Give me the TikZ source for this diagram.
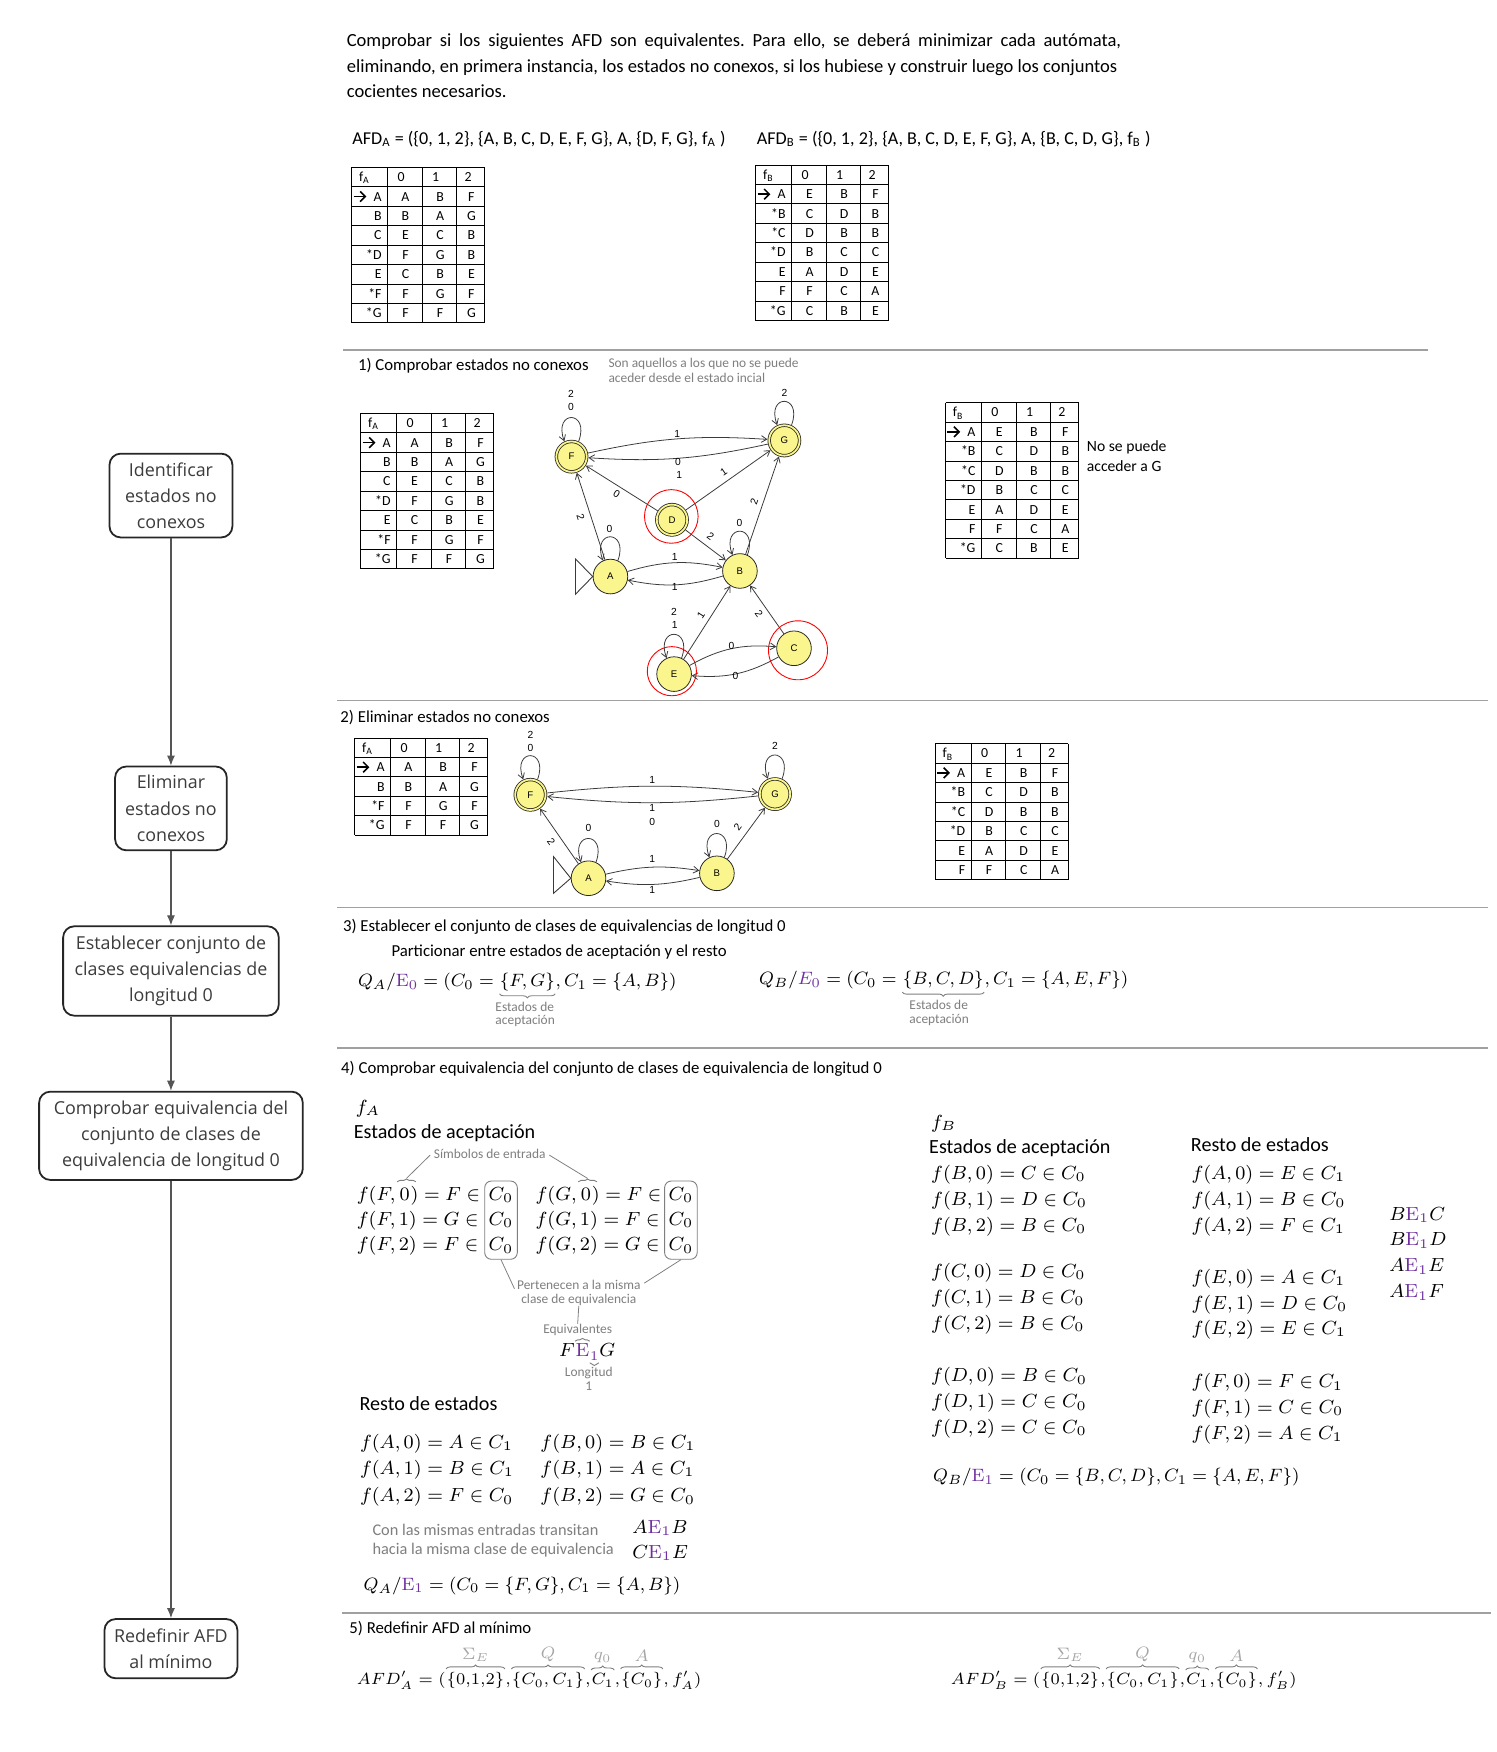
\RequirePackage{fix-cm}
\documentclass[tikz,border=0pt]{standalone}
\usepackage[no-math]{fontspec}
\setmainfont{Carlito}
\newfontfamily\osans{Open Sans}
\newfontfamily\gsans{Liberation Sans}
\usetikzlibrary{arrows.meta,decorations.pathreplacing,fit,calc}
\frenchspacing
\definecolor{epurple}{HTML}{7030A0}
\definecolor{notegray}{HTML}{7F7F7F}
\definecolor{stfill}{RGB}{250,245,140}
\definecolor{boxtext}{HTML}{3C3C3C}
\definecolor{boxline}{HTML}{262626}
\definecolor{arrowgray}{HTML}{555555}
\definecolor{rulegray}{HTML}{A0A0A0}
\definecolor{edgecol}{HTML}{3A3A3A}
\definecolor{lightgrayf}{HTML}{A6A6A6}
\tikzset{
  body/.style={font=\fontsize{7.5}{11.5}\selectfont, inner sep=0pt, anchor=base west},
  para/.style={font=\fontsize{8.3}{11.5}\selectfont, inner sep=0pt, anchor=base west},
  small/.style={font=\fontsize{7}{10}\selectfont, inner sep=0pt, anchor=base west},
  bigtxt/.style={font=\fontsize{9}{11}\selectfont, inner sep=0pt, anchor=base west},
  eqn/.style={font=\fontsize{8.5}{10.5}\selectfont, inner sep=0pt, anchor=base west},
  eqq/.style={font=\fontsize{8}{10}\selectfont, inner sep=0pt, anchor=base west},
  eqfive/.style={font=\fontsize{7.3}{9}\selectfont, inner sep=0pt, anchor=base west},
  note/.style={font=\fontsize{6}{6.1}\selectfont, text=notegray, inner sep=0pt},
  notebig/.style={font=\fontsize{7.3}{8.25}\selectfont, text=notegray, inner sep=0pt},
  tabtxt/.style={font=\fontsize{6.2}{7}\selectfont, inner sep=0pt, text height=4pt, text depth=0pt},
  tabline/.style={line width=0.45pt, draw=black},
  tabarrow/.style={line width=0.7pt, draw=black, -{Straight Barb[length=2.3pt,width=4.6pt]}},
  flowbox/.style={draw=boxline, line width=0.8pt, rounded corners=5pt, align=center, font=\osans\fontsize{8}{11.75}\selectfont, text=boxtext, inner sep=0pt},
  flowarrow/.style={draw=arrowgray, line width=0.5pt, -{Latex[length=4.5pt,width=3.6pt]}},
  hrule/.style={draw=rulegray, line width=0.7pt},
  st/.style={circle, draw=black!85, line width=0.35pt, fill=stfill, minimum size=15.5pt, inner sep=0pt, font=\gsans\fontsize{4.3}{5}\selectfont},
  fin/.style={double=stfill, double distance=0.8pt, minimum size=13.6pt, outer sep=0.8pt},
  ring/.style={draw=red, line width=0.4pt},
  edge/.style={draw=edgecol, line width=0.35pt, -{Straight Barb[length=2.4pt,width=3pt]}},
  tri/.style={draw=edgecol, line width=0.4pt},
  glbl/.style={font=\gsans\fontsize{4.6}{5}\selectfont, inner sep=0pt},
  brc/.style={draw=notegray, line width=0.4pt, decorate, decoration={brace, amplitude=1.8pt}},
  sbrc/.style={draw=notegray, line width=0.4pt, decorate, decoration={brace, amplitude=1.2pt}},
  leader/.style={draw=notegray, line width=0.35pt},
  cbox/.style={draw=notegray, line width=0.4pt, rounded corners=3pt, inner xsep=1.6pt, inner ysep=2.5pt},
  labfive/.style={font=\fontsize{7.4}{9}\selectfont, text=lightgrayf, inner sep=0pt},
}
\newcommand{\dfatab}[6]{%
\begin{scope}[shift={(#2,#3)}]
 \foreach \cx in {0,32,63,94,119} \draw[tabline] (\cx,0) -- (\cx,{#5*17.4});
 \foreach \k in {0,...,#5} \draw[tabline] (0,{\k*17.4}) -- (119,{\k*17.4});
 \node[tabtxt, anchor=west] (#1-h0) at (6,8.7) {f\textsubscript{#4}};
 \node[tabtxt] (#1-h1) at (44,8.7) {0};
 \node[tabtxt] (#1-h2) at (75,8.7) {1};
 \node[tabtxt] (#1-h3) at (104,8.7) {2};
 \foreach \ts/\ta/\tb/\tc [count=\i] in {#6} {
   \node[tabtxt, anchor=east] (#1-\i-s) at (27,{\i*17.4+8.7}) {\ts};
   \node[tabtxt] (#1-\i-a) at (48,{\i*17.4+8.7}) {\ta};
   \node[tabtxt] (#1-\i-b) at (79,{\i*17.4+8.7}) {\tb};
   \node[tabtxt] (#1-\i-c) at (107,{\i*17.4+8.7}) {\tc};
 }
 \draw[tabarrow] (1.5,26.1) -- (13,26.1);
\end{scope}}
\newcommand{\selfloop}[1]{\draw[edge] (#1.65) .. controls +(70:15pt) and +(110:15pt) .. (#1.115);}
\begin{document}
\begin{tikzpicture}[x=0.5pt,y=-0.5pt]
\fill[white] (0,0) rectangle (1339,1568);
\useasboundingbox (0,0) rectangle (1339,1568);

% ---------------- flowchart ----------------
\node[flowbox, minimum width=55pt, minimum height=37.5pt] (b1) at (153,443.5) {Identificar\\estados no\\conexos};
\node[flowbox, minimum width=50pt, minimum height=37.5pt] (b2) at (153,723.5) {Eliminar\\estados no\\conexos};
\node[flowbox, minimum width=96.5pt, minimum height=40pt] (b3) at (153,869) {Establecer conjunto de\\clases equivalencias de\\longitud 0};
\node[flowbox, minimum width=118pt, minimum height=39.5pt] (b4) at (153,1016.5) {Comprobar equivalencia del\\conjunto de clases de\\equivalencia de longitud 0};
\node[flowbox, minimum width=59.5pt, minimum height=26.5pt] (b5) at (153,1475.5) {Redefinir AFD\\al mínimo};
\draw[flowarrow] (b1) -- (b2);
\draw[flowarrow] (b2) -- (b3);
\draw[flowarrow] (b3) -- (b4);
\draw[flowarrow] (b4) -- (b5);

% ---------------- intro ----------------
\node[para] (p1) at (310,41.5) {\makebox[346.5pt][s]{Comprobar si los siguientes AFD son equivalentes. Para ello, se deberá minimizar cada autómata,}};
\node[para] (p2) at (310,64.5) {eliminando, en primera instancia, los estados no conexos, si los hubiese y construir luego los conjuntos};
\node[para] (p3) at (310,87.5) {cocientes necesarios.};
\node[para, font=\fontsize{8.1}{10}\selectfont] (afda) at (315,129.5) {AFD\textsubscript{A} = (\{0, 1, 2\}, \{A, B, C, D, E, F, G\}, A, \{D, F, G\}, f\textsubscript{A} )};
\node[para, font=\fontsize{8.1}{10}\selectfont] (afdb) at (677,129.5) {AFD\textsubscript{B} = (\{0, 1, 2\}, \{A, B, C, D, E, F, G\}, A, \{B, C, D, G\}, f\textsubscript{B} )};

\dfatab{tA}{314.9}{149.8}{A}{8}{A/A/B/F, B/B/A/G, C/E/C/B, *D/F/G/B, E/C/B/E, *F/F/G/F, *G/F/F/G}
\dfatab{tB}{676.5}{147.7}{B}{8}{A/E/B/F, *B/C/D/B, *C/D/B/B, *D/B/C/C, E/A/D/E, F/F/C/A, *G/C/B/E}

% ---------------- rules ----------------
\draw[hrule] (307,313) -- (1278,313);
\draw[hrule] (302,627) -- (1332,627);
\draw[hrule] (302,812) -- (1332,812);
\draw[hrule] (302,938) -- (1332,938);
\draw[hrule] (306,1443.5) -- (1334,1443.5);

% ---------------- section 1 ----------------
\node[body] (s1) at (320,332) {1) Comprobar estados no conexos};
\node[note, anchor=base west] (s1n1) at (544.2,328.7) {Son aquellos a los que no se puede};
\node[note, anchor=base west] (s1n2) at (544.2,341.9) {aceder desde el estado incial};
\dfatab{tC}{323}{370}{A}{8}{A/A/B/F, B/B/A/G, C/E/C/B, *D/F/G/B, E/C/B/E, *F/F/G/F, *G/F/F/G}
\dfatab{tD}{846.4}{360.4}{B}{8}{A/E/B/F, *B/C/D/B, *C/D/B/B, *D/B/C/C, E/A/D/E, F/F/C/A, *G/C/B/E}
\node[small] (nsp1) at (972.4,404.5) {No se puede};
\node[small] (nsp2) at (972.4,421.8) {acceder a G};

\node[st, fin] (gF) at (511.5,408.7) {F};
\node[st, fin] (gG) at (702,394.2) {G};
\node[st, fin] (gD) at (601.4,465.2) {D};
\node[st] (gA) at (546.3,516) {A};
\node[st] (gB) at (662.2,511) {B};
\node[st] (gE) at (603.3,603.3) {E};
\node[st] (gC) at (710.6,580.2) {C};
\draw[ring] ([shift={(-0.3pt,1.5pt)}]gD.center) circle[radius=12pt];
\draw[ring] ([shift={(-1pt,1.3pt)}]gE.center) circle[radius=11pt];
\draw[ring] ([shift={(1.8pt,-0.9pt)}]gC.center) circle[radius=13.2pt];
\draw[tri] (gA.west) -- ++(-15.4,-15.8) -- ++(0,31.6) -- cycle;
\draw[edge] (gF) to[bend left=8] (gG);
\draw[edge] (gG) to[bend left=8] (gF);
\draw[edge] (gD) -- (gF);
\draw[edge] (gD) -- (gG);
\draw[edge] (gD) -- (gB);
\draw[edge] (gA) -- (gF);
\draw[edge] (gB) -- (gG);
\draw[edge] (gE) -- (gB);
\draw[edge] (gC) -- (gB);
\draw[edge] (gA) to[bend left=14] (gB);
\draw[edge] (gB) to[bend left=14] (gA);
\draw[edge] (gE) to[bend left=17] (gC);
\draw[edge] (gC) to[bend left=17] (gE);
\selfloop{gF}\selfloop{gG}\selfloop{gA}\selfloop{gB}\selfloop{gE}
\node[glbl] (l1) at (511,352.6) {2};
\node[glbl] (l2) at (511,364) {0};
\node[glbl] (l3) at (702,351.8) {2};
\node[glbl] (l4) at (606,388) {1};
\node[glbl] (l5) at (606.8,413.2) {0};
\node[glbl] (l6) at (608,425) {1};
\node[glbl, rotate=-32] (l7) at (551.8,442) {0};
\node[glbl, rotate=35] (l8) at (647.6,422.3) {1};
\node[glbl, rotate=-72] (l9) at (519.7,463) {2};
\node[glbl, rotate=-37] (l10) at (636,479.7) {2};
\node[glbl, rotate=71] (l11) at (674.9,449.3) {2};
\node[glbl] (l12) at (545.4,473) {0};
\node[glbl] (l13) at (661.9,467.6) {0};
\node[glbl] (l14) at (603.8,498.5) {1};
\node[glbl] (l15) at (603.8,525.5) {1};
\node[glbl] (l16) at (603.3,547.8) {2};
\node[glbl] (l17) at (603.8,559.3) {1};
\node[glbl, rotate=57] (l18) at (627.4,550.9) {1};
\node[glbl, rotate=-55] (l19) at (679.3,549.4) {2};
\node[glbl] (l20) at (654.6,578) {0};
\node[glbl] (l21) at (658.3,604.7) {0};

% ---------------- section 2 ----------------
\node[body] (s2) at (304.3,647) {2) Eliminar estados no conexos};
\dfatab{tE}{317.6}{660.5}{A}{5}{A/A/B/F, B/B/A/G, *F/F/G/F, *G/F/F/G}
\dfatab{tF}{837.2}{665.6}{B}{7}{A/E/B/F, *B/C/D/B, *C/D/B/B, *D/B/C/C, E/A/D/E, F/F/C/A}
\node[st, fin] (hF) at (474.7,711.3) {F};
\node[st, fin] (hG) at (693.6,710.7) {G};
\node[st] (hA) at (526.7,786) {A};
\node[st] (hB) at (641.6,781.6) {B};
\draw[tri] (hA.west) -- ++(-15.5,-19.4) -- ++(0,32.9) -- cycle;
\draw[edge] (hF) to[bend left=6] (hG);
\draw[edge] (hG) to[bend left=6] (hF);
\draw[edge] (hA) -- (hF);
\draw[edge] (hB) -- (hG);
\draw[edge] (hA) to[bend left=11] (hB);
\draw[edge] (hB) to[bend left=11] (hA);
\selfloop{hF}\selfloop{hG}\selfloop{hA}\selfloop{hB}
\node[glbl] (m1) at (474.7,657.5) {2};
\node[glbl] (m2) at (474.7,669.5) {0};
\node[glbl] (m3) at (693.6,668) {2};
\node[glbl] (m4) at (583.7,697.9) {1};
\node[glbl] (m5) at (583.7,723.3) {1};
\node[glbl] (m6) at (583.7,736) {0};
\node[glbl] (m7) at (526.7,741) {0};
\node[glbl, rotate=-55] (m8) at (493.3,753) {2};
\node[glbl] (m9) at (641.6,737.3) {0};
\node[glbl, rotate=54] (m10) at (660.2,740.3) {2};
\node[glbl] (m11) at (583.7,769) {1};
\node[glbl] (m12) at (583.7,796.5) {1};

% ---------------- section 3 ----------------
\node[body] (s3) at (306.6,833.4) {3) Establecer el conjunto de clases de equivalencias de longitud 0};
\node[body] (s3b) at (350,855.8) {Particionar entre estados de aceptación y el resto};
\node[eqq] (qa1) at (320,883) {$Q_A/{\color{epurple}\mathrm{E}_0} = (C_0 = {}$};
\node[eqq] (qa2) at (qa1.base east) {$\{F,G\}$};
\node[eqq] (qa3) at (qa2.base east) {$, C_1 = \{A,B\})$};
\draw[brc] ([yshift=-1pt]qa2.south east) -- ([yshift=-1pt]qa2.south west);
\node[note, anchor=north west, align=left] (qa2n) at ([shift={(-2pt,-4.5pt)}]qa2.south west) {Estados de\\aceptación};
\node[eqq] (qb1) at (679,881.5) {$Q_B/{\color{epurple}E_0} = (C_0 = {}$};
\node[eqq] (qb2) at (qb1.base east) {$\{B,C,D\}$};
\node[eqq] (qb3) at (qb2.base east) {$, C_1 = \{A,E,F\})$};
\draw[brc] ([yshift=-1pt]qb2.south east) -- ([yshift=-1pt]qb2.south west);
\node[note, anchor=north west, align=left] (qb2n) at ([shift={(3pt,-4.5pt)}]qb2.south west) {Estados de\\aceptación};

% ---------------- section 4 ----------------
\node[body] (s4) at (305,961) {4) Comprobar equivalencia del conjunto de clases de equivalencia de longitud 0};
\node[eqn] (fa) at (318,996.5) {$f_A$};
\node[bigtxt] (ea1) at (316.3,1018.9) {Estados de aceptación};
\node[eqn] (rF0a) at (319,1074) {$f(F,{}$};
\node[eqn] (rF0b) at (rF0a.base east) {$0$};
\node[eqn] (rF0c) at (rF0b.base east) {$) = F \in$};
\node[eqn] (rF0d) at (437,1074) {$C_0$};
\node[eqn] (rF1a) at (319,1096.5) {$f(F,1) = G \in$};
\node[eqn] (rF1d) at (437,1096.5) {$C_0$};
\node[eqn] (rF2a) at (319,1119.5) {$f(F,2) = F \in$};
\node[eqn] (rF2d) at (437,1119.5) {$C_0$};
\node[eqn] (rG0a) at (479,1074) {$f(G,{}$};
\node[eqn] (rG0b) at (rG0a.base east) {$0$};
\node[eqn] (rG0c) at (rG0b.base east) {$) = F \in$};
\node[eqn] (rG0d) at (598,1074) {$C_0$};
\node[eqn] (rG1a) at (479,1096.5) {$f(G,1) = F \in$};
\node[eqn] (rG1d) at (598,1096.5) {$C_0$};
\node[eqn] (rG2a) at (479,1119.5) {$f(G,2) = G \in$};
\node[eqn] (rG2d) at (598,1119.5) {$C_0$};
\node[cbox, fit=(rF0d)(rF2d)] (boxL) {};
\node[cbox, fit=(rG0d)(rG2d)] (boxR) {};
\node[note] (sim) at (438.3,1032.8) {Símbolos de entrada};
\draw[sbrc] ([shift={(-1pt,2.5pt)}]rF0b.north west) -- ([shift={(2.5pt,2.5pt)}]rF0b.north east);
\draw[sbrc] ([shift={(-1pt,2.5pt)}]rG0b.north west) -- ([shift={(2.5pt,2.5pt)}]rG0b.north east);
\draw[leader] ([xshift=-1.5pt,yshift=-0.5pt]sim.west) -- ($(rF0b.north)+(1.5,-8)$);
\draw[leader] ([xshift=1.5pt,yshift=-0.5pt]sim.east) -- ($(rG0b.north)+(1.5,-8)$);
\node[note, align=center] (pert) at (518,1157) {Pertenecen a la misma\\clase de equivalencia};
\draw[leader] (boxL.south) -- ($(pert.north west)+(-2,8)$);
\draw[leader] (boxR.south) -- ($(pert.north east)+(3,3)$);
\node[note] (equiv) at (517,1190.4) {Equivalentes};
\draw[leader] (pert.south) -- (equiv.north);
\node[eqn] (fe1) at (500,1214.3) {$F$};
\node[eqn] (fe2) at (fe1.base east) {${\color{epurple}\mathrm{E}}$};
\node[eqn, font=\fontsize{6}{7}\selectfont] (fe3) at ([yshift=-1.5pt]fe2.base east) {${\color{epurple}1}$};
\node[eqn] (fe4) at ([yshift=1.5pt]fe3.base east) {$G$};
\draw[sbrc] ([yshift=1pt]fe2.north west) -- ([yshift=1pt]fe2.north east);
\draw[sbrc] ([yshift=-1pt]fe3.south east) -- ([yshift=-1pt]fe3.south west);
\node[note, align=center] (long) at (527,1234) {Longitud\\1};
\node[bigtxt] (resA) at (321.4,1262) {Resto de estados};
\node[eqn] (rA0) at (321.8,1296.3) {$f(A,0) = A \in C_1$};
\node[eqn] (rA1) at (321.8,1319.5) {$f(A,1) = B \in C_1$};
\node[eqn] (rA2) at (321.8,1344) {$f(A,2) = F \in C_0$};
\node[eqn] (rB0) at (483.3,1296.3) {$f(B,0) = B \in C_1$};
\node[eqn] (rB1) at (483.3,1319.5) {$f(B,1) = A \in C_1$};
\node[eqn] (rB2) at (483.3,1344) {$f(B,2) = G \in C_0$};
\node[notebig, anchor=west, align=left] (con) at (333,1379) {Con las mismas entradas transitan\\hacia la misma clase de equivalencia};
\node[eqn] (ae1b) at (565.6,1372.4) {$A{\color{epurple}\mathrm{E}_1}B$};
\node[eqn] (ce1e) at (565.6,1394.8) {$C{\color{epurple}\mathrm{E}_1}E$};
\node[eqq] (qae1) at (325,1423) {$Q_A/{\color{epurple}\mathrm{E}_1} = (C_0 = \{F,G\}, C_1 = \{A,B\})$};

\node[eqn] (fb) at (833,1009.9) {$f_B$};
\node[bigtxt] (eb1) at (831.2,1032.3) {Estados de aceptación};
\node[bigtxt] (resB) at (1065.5,1030.8) {Resto de estados};
\node[eqn] (sB0) at (833,1055.2) {$f(B,0) = C \in C_0$};
\node[eqn] (sB1) at (833,1078.5) {$f(B,1) = D \in C_0$};
\node[eqn] (sB2) at (833,1101.8) {$f(B,2) = B \in C_0$};
\node[eqn] (sC0) at (833,1143.3) {$f(C,0) = D \in C_0$};
\node[eqn] (sC1) at (833,1166.5) {$f(C,1) = B \in C_0$};
\node[eqn] (sC2) at (833,1189.5) {$f(C,2) = B \in C_0$};
\node[eqn] (sD0) at (833,1236.6) {$f(D,0) = B \in C_0$};
\node[eqn] (sD1) at (833,1259.9) {$f(D,1) = C \in C_0$};
\node[eqn] (sD2) at (833,1282.9) {$f(D,2) = C \in C_0$};
\node[eqn] (sA0) at (1066,1055.2) {$f(A,0) = E \in C_1$};
\node[eqn] (sA1) at (1066,1078.5) {$f(A,1) = B \in C_0$};
\node[eqn] (sA2) at (1066,1101.8) {$f(A,2) = F \in C_1$};
\node[eqn] (sE0) at (1066,1148.6) {$f(E,0) = A \in C_1$};
\node[eqn] (sE1) at (1066,1171.6) {$f(E,1) = D \in C_0$};
\node[eqn] (sE2) at (1066,1194.3) {$f(E,2) = E \in C_1$};
\node[eqn] (sF0) at (1066,1242) {$f(F,0) = F \in C_1$};
\node[eqn] (sF1) at (1066,1264.9) {$f(F,1) = C \in C_0$};
\node[eqn] (sF2) at (1066,1288.2) {$f(F,2) = A \in C_1$};
\node[eqn] (be1c) at (1243,1092) {$B{\color{epurple}\mathrm{E}_1}C$};
\node[eqn] (be1d) at (1243,1114.9) {$B{\color{epurple}\mathrm{E}_1}D$};
\node[eqn] (ae1e) at (1243,1138.2) {$A{\color{epurple}\mathrm{E}_1}E$};
\node[eqn] (ae1f) at (1243,1161.5) {$A{\color{epurple}\mathrm{E}_1}F$};
\node[eqq] (qbe1) at (834.7,1326.2) {$Q_B/{\color{epurple}\mathrm{E}_1} = (C_0 = \{B,C,D\}, C_1 = \{A,E,F\})$};

% ---------------- section 5 ----------------
\node[body] (s5) at (312.3,1462.3) {5) Redefinir AFD al mínimo};
\node[eqfive] (a5a) at (319,1508) {$AFD'_A = ($};
\node[eqfive] (a5b) at (a5a.base east) {$\{0{,}1{,}2\}$};
\node[eqfive] (a5c) at (a5b.base east) {$,$};
\node[eqfive] (a5d) at (a5c.base east) {$\{C_0{,}\,C_1\}$};
\node[eqfive] (a5e) at (a5d.base east) {$,$};
\node[eqfive] (a5f) at (a5e.base east) {$C_1$};
\node[eqfive] (a5g) at (a5f.base east) {$,$};
\node[eqfive] (a5h) at (a5g.base east) {$\{C_0\}$};
\node[eqfive] (a5i) at (a5h.base east) {$, f'_A)$};
\node[eqfive] (b5a) at (850.7,1508) {$AFD'_B = ($};
\node[eqfive] (b5b) at (b5a.base east) {$\{0{,}1{,}2\}$};
\node[eqfive] (b5c) at (b5b.base east) {$,$};
\node[eqfive] (b5d) at (b5c.base east) {$\{C_0{,}\,C_1\}$};
\node[eqfive] (b5e) at (b5d.base east) {$,$};
\node[eqfive] (b5f) at (b5e.base east) {$C_1$};
\node[eqfive] (b5g) at (b5f.base east) {$,$};
\node[eqfive] (b5h) at (b5g.base east) {$\{C_0\}$};
\node[eqfive] (b5i) at (b5h.base east) {$, f'_B)$};
\foreach \q in {a5,b5} {
  \foreach \p/\lab in {b/\Sigma_E, d/Q, f/q_0, h/A} {
    \draw[brc] ([yshift=1.5pt]\q\p.north west) -- ([yshift=1.5pt]\q\p.north east);
    \node[labfive, anchor=south] (\q\p-l) at ([yshift=4.5pt]\q\p.north) {$\lab$};
  }
}
\end{tikzpicture}
\end{document}
